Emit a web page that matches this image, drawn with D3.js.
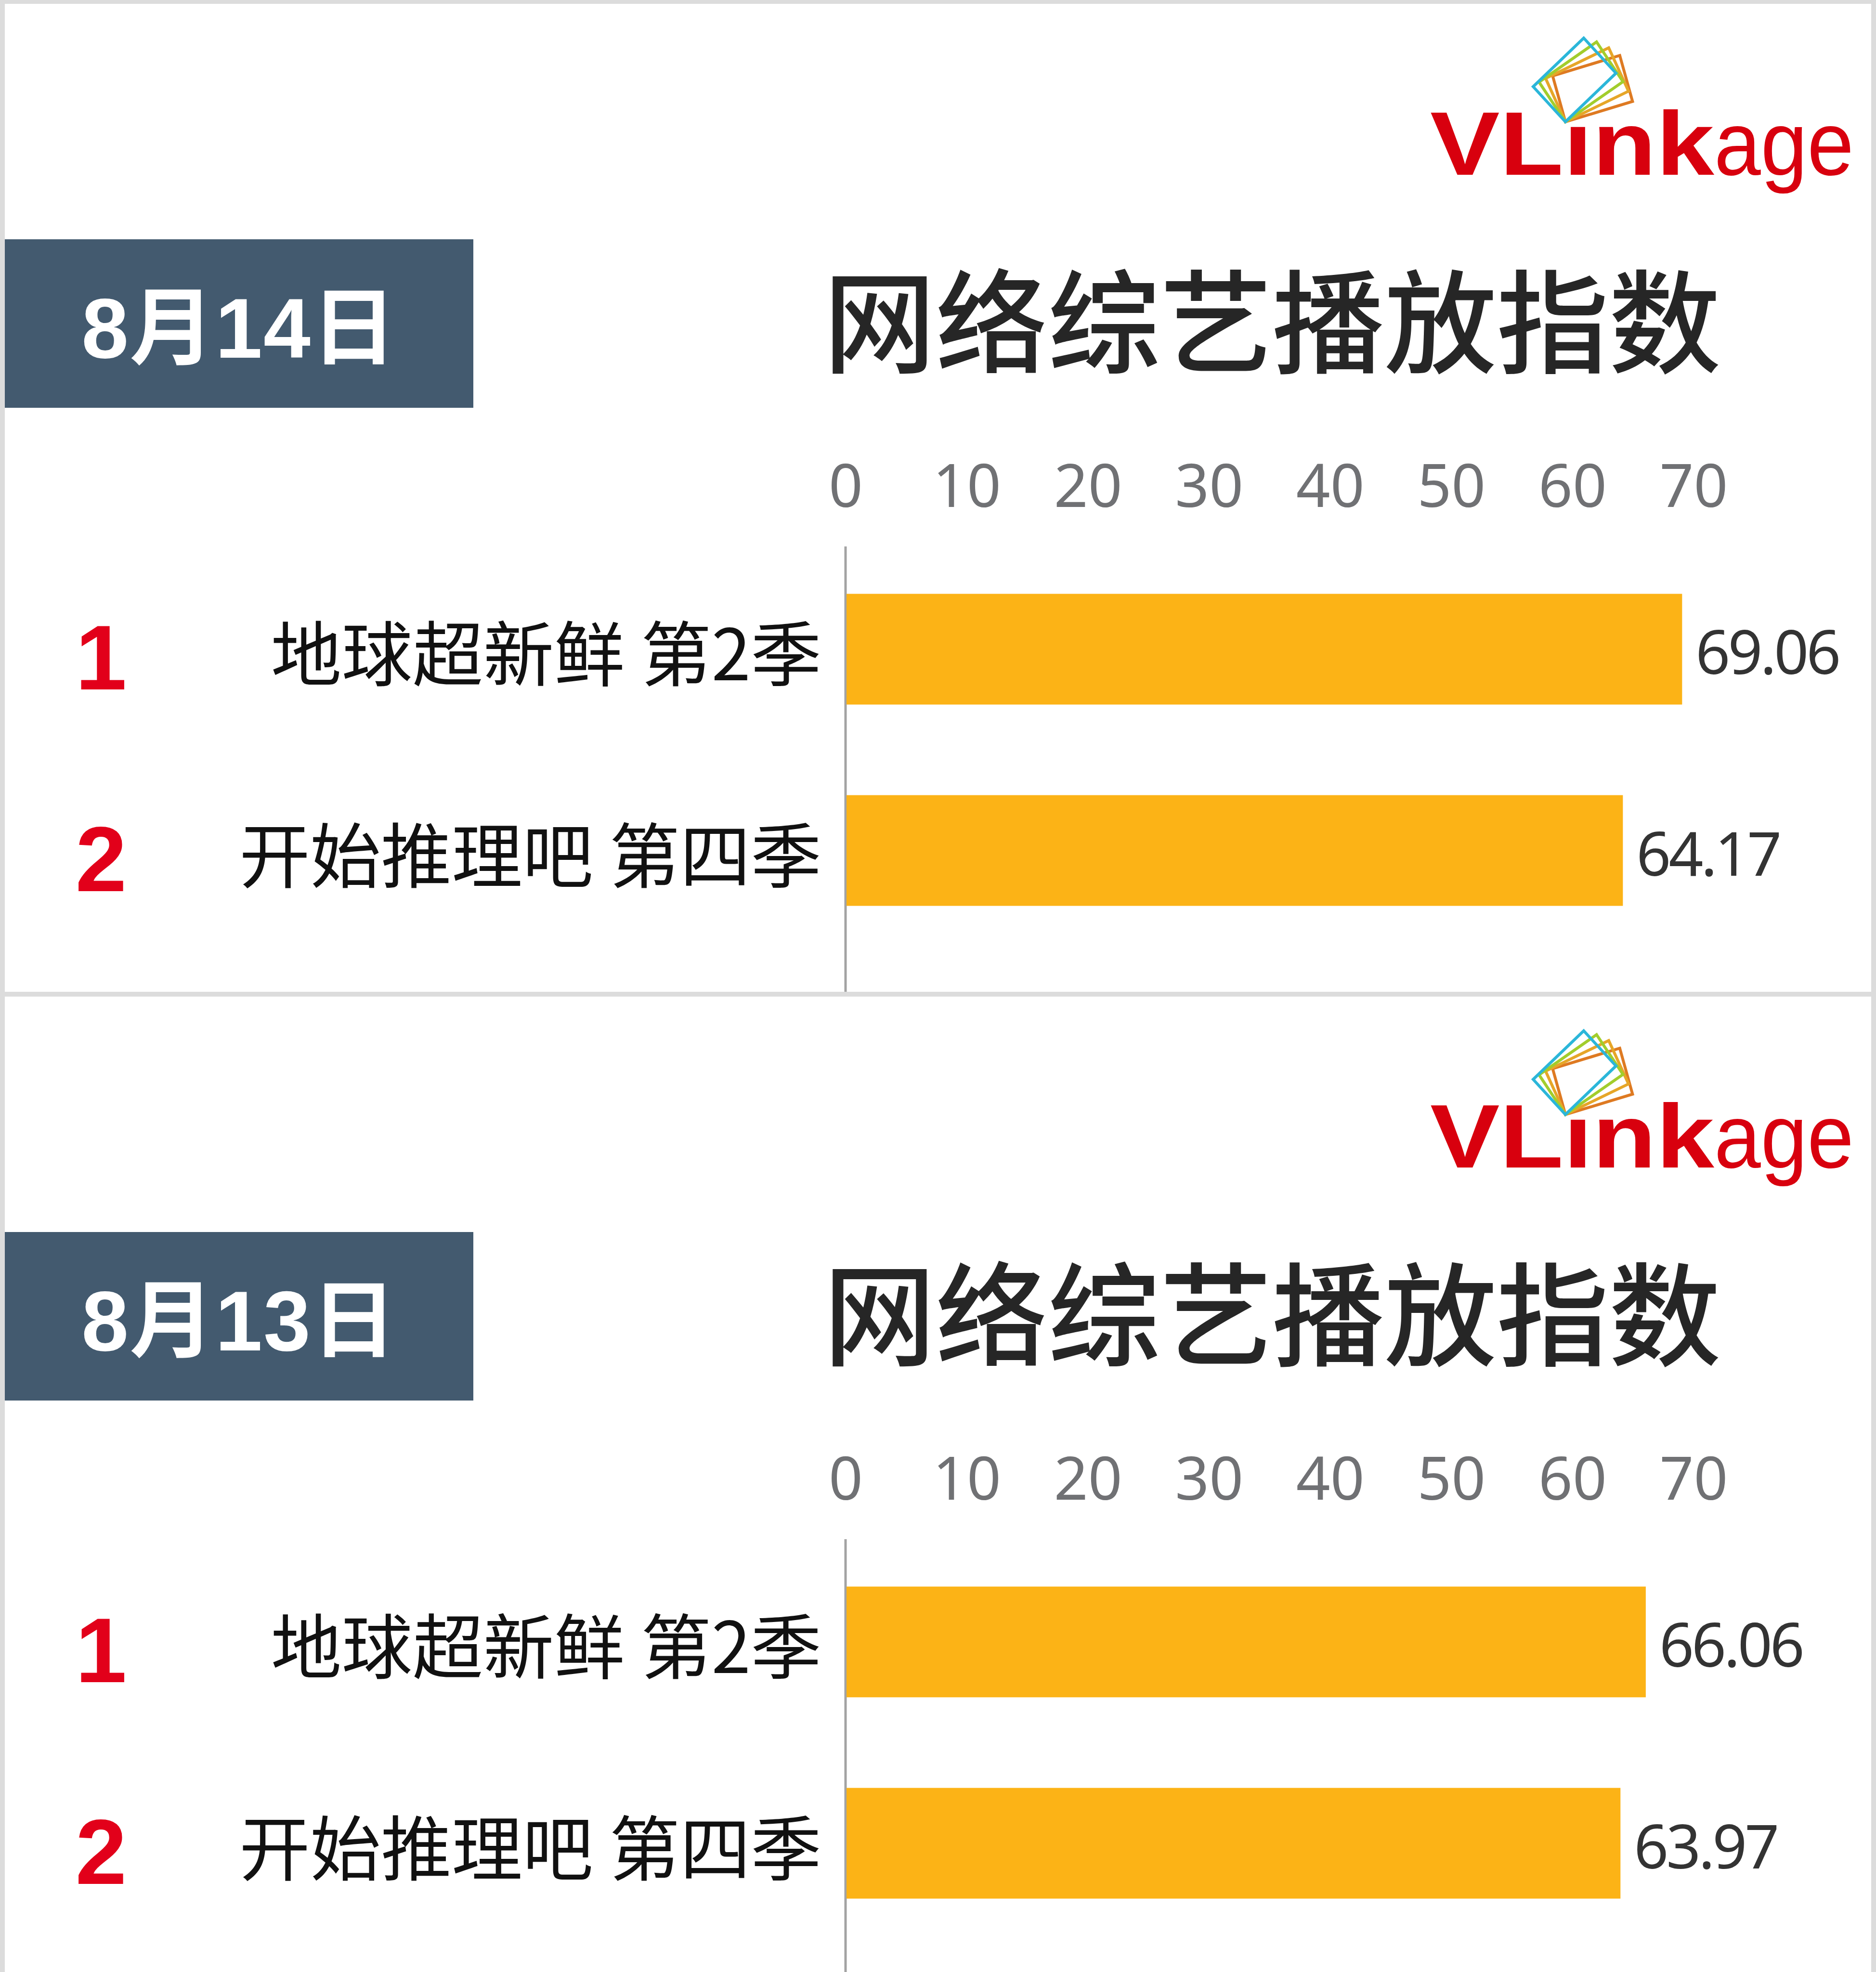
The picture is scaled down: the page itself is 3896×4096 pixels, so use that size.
<!DOCTYPE html>
<html><head><meta charset="utf-8">
<script src="https://cdn.jsdelivr.net/npm/d3@7"></script>
<style>html,body{margin:0;padding:0;background:#fff;} svg{display:block}</style>
</head><body>
<script>
// ---- data ----
const title = "网络综艺播放指数";
const dates = ["8月14日", "8月13日"];
const categories = ["地球超新鲜 第2季", "开始推理吧 第四季"];
const ranks = ["1", "2"];
const valuesAug14 = [69.06, 64.17];
const valuesAug13 = [66.06, 63.97];
const tickValues = [0, 10, 20, 30, 40, 50, 60, 70];
const logoBold = "VLink";
const logoLight = "age";
const logoColors = ["#2bb6d9", "#a2cd2c", "#e6a628", "#de7a22"];

const panels = [
  { date: dates[0], values: valuesAug14 },
  { date: dates[1], values: valuesAug13 }
];

// ---- layout ----
const W = 3896, H = 4096, PANEL_H = 2062;
const CJK = "'Noto Sans CJK SC', sans-serif";
const svg = d3.select("body").append("svg").attr("width", W).attr("height", H);
svg.append("rect").attr("width", W).attr("height", H).attr("fill", "#fff");

const x = d3.scaleLinear().domain([0, 70]).range([1756, 3517]);
const y = d3.scaleBand().domain(categories).range([1108, 2007]).paddingInner(0.45).paddingOuter(0.3);

panels.forEach((p, i) => {
  const g = svg.append("g").attr("transform", `translate(0,${i * PANEL_H})`);

  // date box
  g.append("rect").attr("x", 10).attr("y", 497).attr("width", 973).attr("height", 350).attr("fill", "#435a6f");
  g.append("text").attr("x", 497).attr("y", 743).attr("text-anchor", "middle")
    .attr("fill", "#fff").attr("font-family", "'Liberation Sans', 'Noto Sans CJK SC', sans-serif")
    .attr("font-weight", "bold").attr("font-size", 176).attr("letter-spacing", 2).text(p.date);

  // title
  g.append("text").attr("x", 2642).attr("y", 757).attr("text-anchor", "middle")
    .attr("fill", "#262626").attr("font-family", CJK).attr("font-weight", 500)
    .attr("font-size", 233).text(title);

  // logo text
  const lt = g.append("text").attr("x", 2970).attr("y", 363).attr("fill", "#d8000e")
    .attr("font-family", "'Liberation Sans', Arial, sans-serif").attr("font-size", 188);
  lt.append("tspan").attr("font-weight", "bold").attr("textLength", 590)
    .attr("lengthAdjust", "spacingAndGlyphs").text(logoBold);
  lt.append("tspan").attr("font-weight", "normal").attr("textLength", 290)
    .attr("lengthAdjust", "spacingAndGlyphs").text(logoLight);
  // hide the i dot (logo uses a dotless i under the icon)
  g.append("rect").attr("x", 3244).attr("y", 216).attr("width", 60).attr("height", 44).attr("fill", "#fff");
  // logo icon: four frames fanned around a shared corner
  const frame = [[38, -174], [105, -101], [0, 0], [-67, -73]];
  const icon = g.append("g").attr("transform", "translate(3251,253)");
  logoColors.slice().reverse().forEach((c, k) => {
    const idx = logoColors.length - 1 - k;
    icon.append("polygon").attr("points", frame.map(d => d.join(",")).join(" "))
      .attr("transform", `rotate(${idx * 9})`).attr("fill", "none")
      .attr("stroke", c).attr("stroke-width", 6).attr("stroke-linejoin", "miter");
  });

  // x axis tick labels (top)
  const ax = g.append("g").attr("transform", "translate(0,1053)")
    .call(d3.axisTop(x).tickValues(tickValues).tickSize(0).tickPadding(0));
  ax.select(".domain").remove();
  ax.selectAll("text").attr("font-family", "'Noto Sans', sans-serif").attr("font-size", 124)
    .attr("fill", "#707174");

  // vertical axis line
  g.append("line").attr("x1", x(0)).attr("x2", x(0)).attr("y1", 1135)
    .attr("y2", i === 0 ? 2060 : H - PANEL_H).attr("stroke", "#a3a3a3").attr("stroke-width", 5);

  // bars
  g.selectAll("rect.bar").data(p.values).join("rect").attr("class", "bar")
    .attr("x", x(0) + 2).attr("y", (d, j) => y(categories[j]))
    .attr("width", d => x(d) - x(0) - 2).attr("height", y.bandwidth()).attr("fill", "#fcb316");

  // value labels
  g.selectAll("text.val").data(p.values).join("text").attr("class", "val")
    .attr("x", d => x(d) + 28).attr("y", (d, j) => y(categories[j]) + y.bandwidth() / 2 + 52)
    .attr("font-family", "'Noto Sans', sans-serif").attr("font-size", 126).attr("fill", "#333")
    .attr("letter-spacing", -5).text(d => d.toFixed(2));

  // category labels
  g.selectAll("text.cat").data(categories).join("text").attr("class", "cat")
    .attr("x", 1706).attr("y", d => y(d) + y.bandwidth() / 2 + 65).attr("text-anchor", "end")
    .attr("font-family", CJK).attr("font-size", 147).attr("fill", "#111").text(d => d);

  // rank numbers
  g.selectAll("text.rank").data(ranks).join("text").attr("class", "rank")
    .attr("x", 210).attr("y", (d, j) => y(categories[j]) + y.bandwidth() / 2 + 84)
    .attr("text-anchor", "middle").attr("font-family", "'Liberation Sans', Arial, sans-serif")
    .attr("font-weight", "bold").attr("font-size", 192).attr("fill", "#e2001a").text(d => d);
});

// frame borders and divider
const border = "#dcdcdc";
svg.append("rect").attr("x", 0).attr("y", 0).attr("width", 10).attr("height", H).attr("fill", border);
svg.append("rect").attr("x", W - 10).attr("y", 0).attr("width", 10).attr("height", H).attr("fill", border);
svg.append("rect").attr("x", 0).attr("y", 0).attr("width", W).attr("height", 8).attr("fill", border);
svg.append("rect").attr("x", 0).attr("y", 2060).attr("width", W).attr("height", 10).attr("fill", border);
</script>
</body></html>
